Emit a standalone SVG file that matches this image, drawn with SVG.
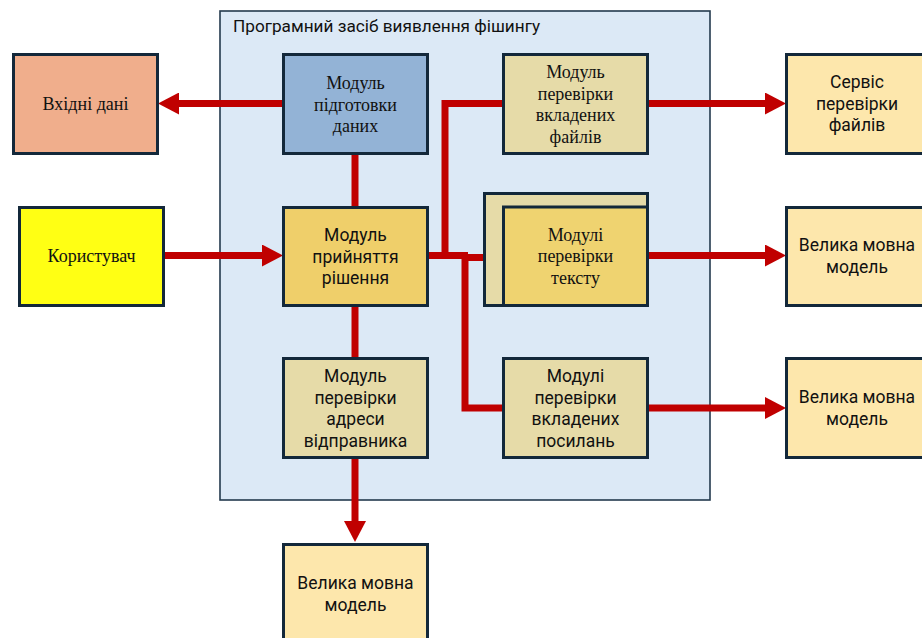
<svg xmlns="http://www.w3.org/2000/svg" width="922" height="638" viewBox="0 0 922 638">
<style>
.box{stroke:#13283a;stroke-width:3}
.serif{font-family:"Liberation Serif","Times New Roman",serif;font-size:18px;fill:#111;text-anchor:middle}
.sans{font-family:Roboto,"Noto Sans","Liberation Sans",sans-serif;font-size:17.5px;fill:#111;text-anchor:middle}
.con{fill:none;stroke:#c00000;stroke-width:7}
</style>
<defs>
<marker id="ah" markerUnits="userSpaceOnUse" markerWidth="21" markerHeight="22" refX="0" refY="11" orient="auto">
<path d="M0,0 L21,11 L0,22 z" fill="#c00000"/>
</marker>
</defs>
<rect width="922" height="638" fill="#fff"/>
<g id="container">
<rect x="220" y="11" width="490" height="489" fill="#dce9f6" stroke="#243a4e" stroke-width="1.6"/>
<text x="233" y="32" style="font-family:Roboto,'Noto Sans','Liberation Sans',sans-serif;font-size:17.2px;fill:#111">Програмний засіб виявлення фішингу</text>
</g>
<g id="connectors">
<path class="con" d="M283,103.5 H179" marker-end="url(#ah)"/>
<path class="con" d="M355,154 V207"/>
<path class="con" d="M355,306 V359"/>
<path class="con" d="M165,255.5 H262" marker-end="url(#ah)"/>
<path class="con" d="M427,255.5 H468"/>
<path class="con" d="M445,259 V103.5 H504"/>
<path class="con" d="M462,257.5 H504"/>
<path class="con" d="M465,254 V408 H504"/>
<path class="con" d="M647,103.5 H765" marker-end="url(#ah)"/>
<path class="con" d="M647,255.5 H765" marker-end="url(#ah)"/>
<path class="con" d="M647,408 H765" marker-end="url(#ah)"/>
<path class="con" d="M355,458 V521" marker-end="url(#ah)"/>
</g>
<g id="input-data">
<rect class="box" x="13.5" y="54.5" width="144" height="99" fill="#f0ae8c"/>
<text class="serif" x="85.5" y="110">Вхідні дані</text>
</g>
<g id="user">
<rect class="box" x="19.5" y="207.5" width="144" height="98" fill="#ffff14"/>
<text class="serif" x="91.5" y="262">Користувач</text>
</g>
<g id="prep">
<rect class="box" x="283.5" y="54.5" width="144" height="99" fill="#93b3d6"/>
<text class="serif" x="355.5" y="89">Модуль</text>
<text class="serif" x="355.5" y="110.5">підготовки</text>
<text class="serif" x="355.5" y="132">даних</text>
</g>
<g id="decision">
<rect class="box" x="283.5" y="207.5" width="144" height="98" fill="#efcf6a"/>
<text class="sans" x="355.5" y="241">Модуль</text>
<text class="sans" x="355.5" y="262.5">прийняття</text>
<text class="sans" x="355.5" y="284">рішення</text>
</g>
<g id="sender">
<rect class="box" x="283.5" y="358.5" width="144" height="99" fill="#e6dba8"/>
<text class="sans" x="355.5" y="382">Модуль</text>
<text class="sans" x="355.5" y="403.5">перевірки</text>
<text class="sans" x="355.5" y="425">адреси</text>
<text class="sans" x="355.5" y="446.5">відправника</text>
</g>
<g id="llm-bottom">
<rect class="box" x="283.5" y="544.5" width="144" height="100" fill="#fde7ac"/>
<text class="sans" x="355.5" y="589">Велика мовна</text>
<text class="sans" x="355.5" y="610.5">модель</text>
</g>
<g id="files">
<rect class="box" x="503.5" y="54.5" width="144" height="99" fill="#e6dba8"/>
<text class="serif" x="575.5" y="78">Модуль</text>
<text class="serif" x="575.5" y="99.5">перевірки</text>
<text class="serif" x="575.5" y="121">вкладених</text>
<text class="serif" x="575.5" y="142.5">файлів</text>
</g>
<g id="text-modules">
<rect class="box" x="484.5" y="193.5" width="163" height="112" fill="#e6dba8"/>
<rect class="box" x="503.5" y="207" width="144" height="98.5" fill="#efd370"/>
<text class="serif" x="575.5" y="240.5">Модулі</text>
<text class="serif" x="575.5" y="262">перевірки</text>
<text class="serif" x="575.5" y="283.5">тексту</text>
</g>
<g id="links">
<rect class="box" x="503.5" y="358.5" width="144" height="99" fill="#e6dba8"/>
<text class="sans" x="575.5" y="382">Модулі</text>
<text class="sans" x="575.5" y="403.5">перевірки</text>
<text class="sans" x="575.5" y="425">вкладених</text>
<text class="sans" x="575.5" y="446.5">посилань</text>
</g>
<g id="file-service">
<rect class="box" x="786.5" y="54.5" width="150" height="99" fill="#fde7ac"/>
<text class="sans" x="857" y="88">Сервіс</text>
<text class="sans" x="857" y="109.5">перевірки</text>
<text class="sans" x="857" y="131">файлів</text>
</g>
<g id="llm-1">
<rect class="box" x="786.5" y="207.5" width="150" height="98" fill="#fde7ac"/>
<text class="sans" x="857" y="251">Велика мовна</text>
<text class="sans" x="857" y="272.5">модель</text>
</g>
<g id="llm-2">
<rect class="box" x="786.5" y="358.5" width="150" height="99" fill="#fde7ac"/>
<text class="sans" x="857" y="403">Велика мовна</text>
<text class="sans" x="857" y="424.5">модель</text>
</g>
</svg>
